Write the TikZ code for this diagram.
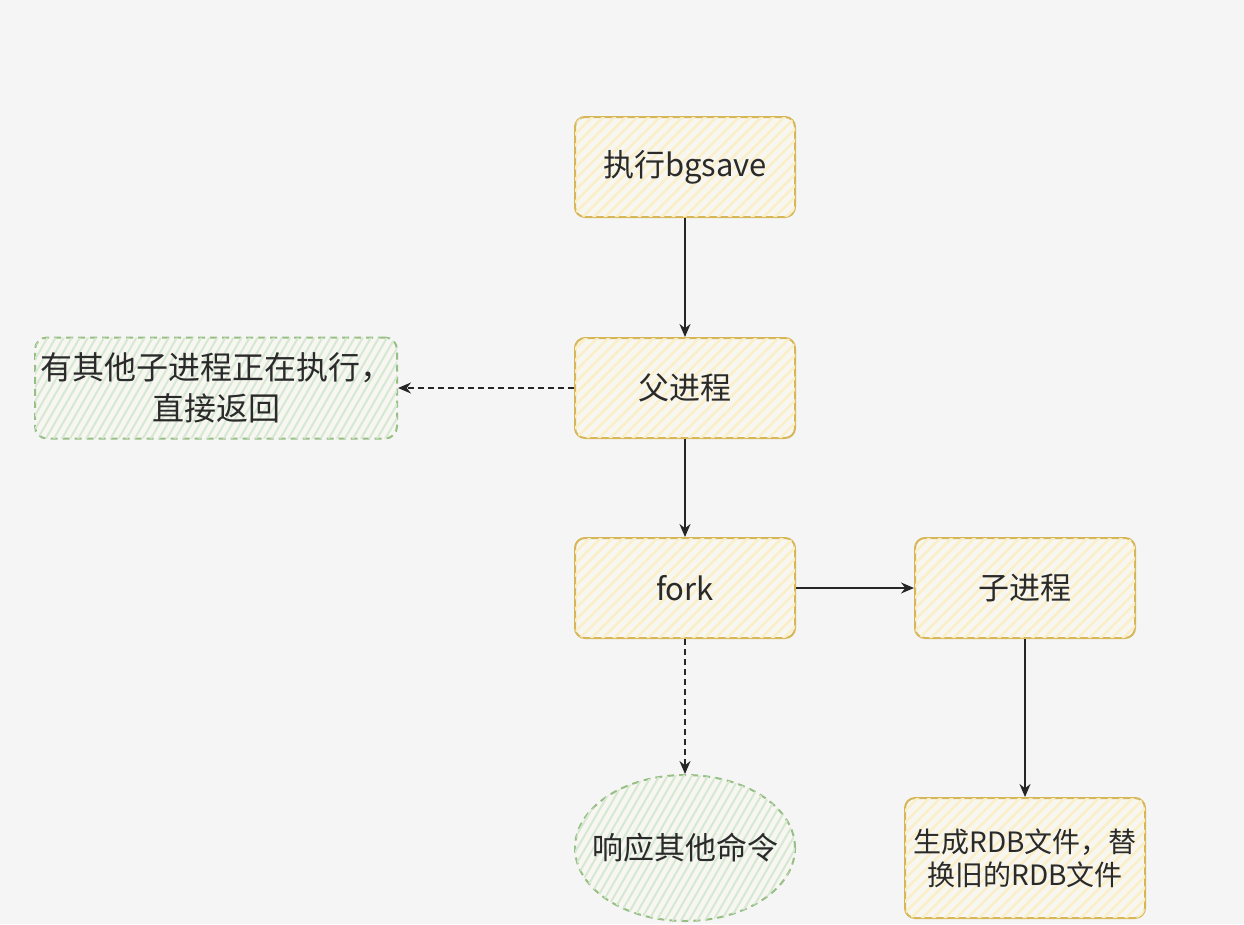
\documentclass[tikz,border=0pt]{standalone}
\usepackage{fontspec}
\setmainfont{Noto Sans CJK SC}
\usetikzlibrary{patterns.meta,shapes.geometric,arrows.meta}
\definecolor{bg}{HTML}{F5F5F5}
\definecolor{boxbg}{HTML}{F7F6F0}
\definecolor{ystroke}{HTML}{D6B656}
\definecolor{yhatch}{HTML}{FBEFC8}
\definecolor{gstroke}{HTML}{97BF85}
\definecolor{ghatch}{HTML}{D5E8D4}
\definecolor{txt}{HTML}{2A2A2A}
\begin{document}
\begin{tikzpicture}[x=1pt,y=-1pt,
  ybox/.style={draw=ystroke, line width=2pt, rounded corners=10pt,
    minimum width=220pt, minimum height=100pt, inner sep=4pt, fill=boxbg,
    postaction={pattern={Lines[angle=45,distance=8pt,line width=2.5pt]}, pattern color=yhatch},
    font=\fontsize{31}{36}\selectfont, text=txt, align=center},
  gbox/.style={draw=gstroke, line width=2pt, dash pattern=on 7pt off 5pt, fill=boxbg,
    postaction={pattern={Lines[angle=60,distance=7pt,line width=2pt]}, pattern color=ghatch},
    text=txt, align=center},
  arr/.style={draw=black!85, line width=1.6pt, -{Stealth[length=13pt,width=11pt]}},
  darr/.style={arr, dash pattern=on 6pt off 4pt}]
\fill[bg] (0,0) rectangle (1244,924);
\useasboundingbox (0,0) rectangle (1244,924);
\node[ybox] (bgs) at (685,167) {执行bgsave};
\node[ybox] (pp) at (685,388) {父进程};
\node[ybox] (fork) at (685,588) {fork};
\node[ybox] (cp) at (1025,588) {子进程};
\node[ybox, minimum width=240pt, minimum height=120pt, font=\fontsize{28}{33}\selectfont] (rdb) at (1025,858) {生成RDB文件，替\\换旧的RDB文件};
\node[gbox, rounded corners=12pt, minimum width=362pt, minimum height=101pt, inner sep=2pt,
  font=\fontsize{32}{41}\selectfont] (busy) at (216,388) {有其他子进程正在执行，\\直接返回};
\node[gbox, ellipse, minimum width=220pt, minimum height=146pt, inner sep=0pt,
  font=\fontsize{31}{36}\selectfont] (resp) at (685,848) {\makebox[0pt]{响应其他命令}};
\draw[arr] (bgs) -- (pp);
\draw[darr] (pp) -- (busy);
\draw[arr] (pp) -- (fork);
\draw[arr] (fork) -- (cp);
\draw[darr] (fork) -- (resp);
\draw[arr] (cp) -- (rdb);
\end{tikzpicture}
\end{document}
